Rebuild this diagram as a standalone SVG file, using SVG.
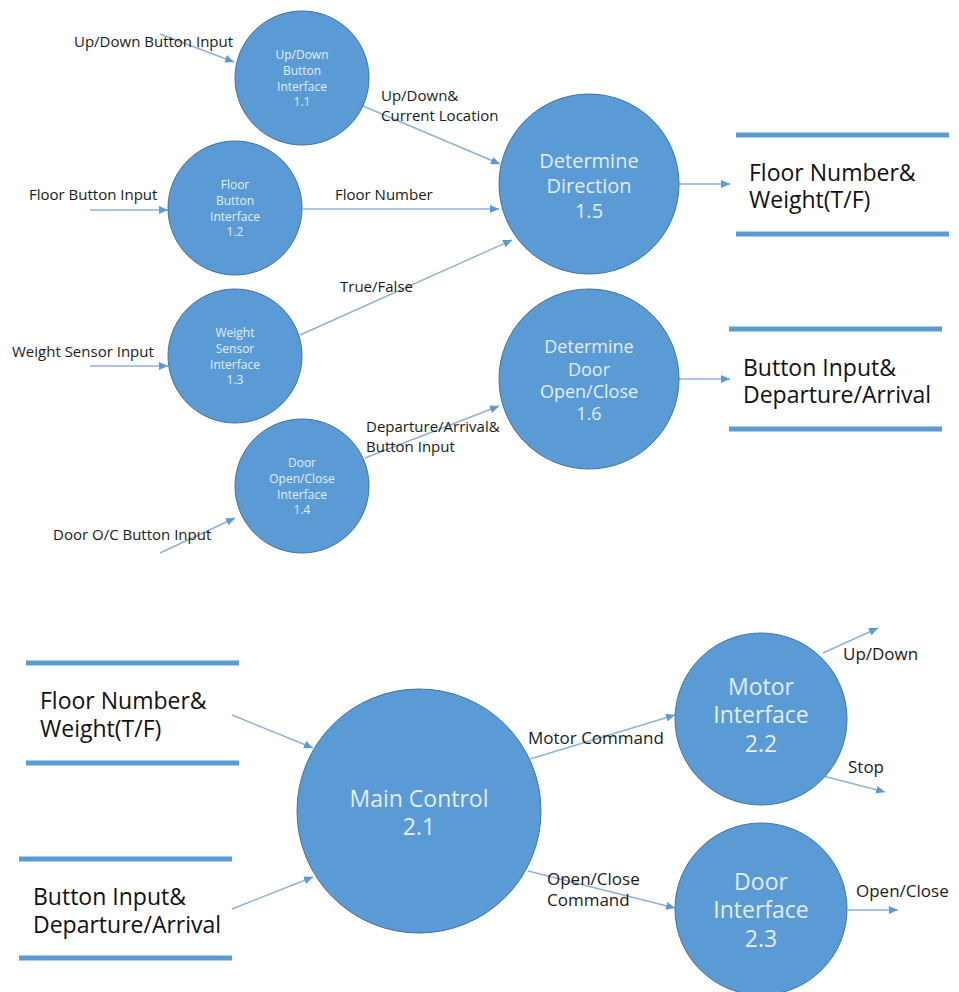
<svg xmlns="http://www.w3.org/2000/svg" width="959" height="992" viewBox="0 0 959 992">
<defs>
<marker id="arr" markerWidth="9" markerHeight="8" refX="9" refY="4" orient="auto" markerUnits="userSpaceOnUse">
<path d="M0,0 L9,4 L0,8 z" fill="#5b9bd5"/>
</marker>
<style>
.proc{fill:#5b9bd5;stroke:#41719c;stroke-width:1}
.pt{fill:#e2eef9;font-family:"Open Sans","Noto Sans",sans-serif;text-anchor:middle}
.s{font-size:12px}
.m{font-size:20px}
.m2{font-size:18px}
.l{font-size:23px}
.lbl{fill:#1a1a1a;font-family:"Open Sans","Noto Sans",sans-serif;font-size:15px}
.lbl2{fill:#1a1a1a;font-family:"Open Sans","Noto Sans",sans-serif;font-size:17px}
.store{stroke:#5b9bd5;stroke-width:5}
.st{fill:#111;font-family:"Open Sans","Noto Sans",sans-serif;font-size:23px}
.c{stroke:#8fb1d9;stroke-width:1.4;fill:none;marker-end:url(#arr)}
</style>
</defs>
<rect width="959" height="992" fill="#ffffff"/>

<g id="connectors">
<line class="c" x1="160" y1="34" x2="234" y2="62"/>
<line class="c" x1="90" y1="210" x2="168" y2="210"/>
<line class="c" x1="90" y1="366" x2="168" y2="366"/>
<line class="c" x1="160" y1="553" x2="235" y2="518"/>
<line class="c" x1="363" y1="106" x2="500" y2="164"/>
<line class="c" x1="303" y1="209" x2="499" y2="209"/>
<line class="c" x1="300" y1="335" x2="512" y2="240"/>
<line class="c" x1="365" y1="458" x2="499" y2="406"/>
<line class="c" x1="679" y1="184" x2="730" y2="184"/>
<line class="c" x1="679" y1="379" x2="730" y2="379"/>
<line class="c" x1="232" y1="715" x2="313" y2="748"/>
<line class="c" x1="232" y1="909" x2="313" y2="877"/>
<line class="c" x1="530" y1="759" x2="675" y2="715"/>
<line class="c" x1="528" y1="871" x2="675" y2="908"/>
<line class="c" x1="823" y1="653" x2="878" y2="628"/>
<line class="c" x1="823" y1="776" x2="885" y2="792"/>
<line class="c" x1="848" y1="910" x2="898" y2="910"/>
</g>

<g id="labels">
<text class="lbl" x="74" y="47">Up/Down Button Input</text>
<text class="lbl" x="29" y="200">Floor Button Input</text>
<text class="lbl" x="12" y="357">Weight Sensor Input</text>
<text class="lbl" x="53" y="540">Door O/C Button Input</text>
<text class="lbl" x="381" y="101">Up/Down&amp;</text>
<text class="lbl" x="381" y="121">Current Location</text>
<text class="lbl" x="335" y="200">Floor Number</text>
<text class="lbl" x="340" y="292">True/False</text>
<text class="lbl" x="366" y="432">Departure/Arrival&amp;</text>
<text class="lbl" x="366" y="452">Button Input</text>
<text class="lbl2" x="528" y="744">Motor Command</text>
<text class="lbl2" x="547" y="885">Open/Close</text>
<text class="lbl2" x="547" y="906">Command</text>
<text class="lbl2" x="843" y="660">Up/Down</text>
<text class="lbl2" x="848" y="773">Stop</text>
<text class="lbl2" x="856" y="897">Open/Close</text>
</g>

<g id="p1_1">
<circle class="proc" cx="302" cy="78" r="67"/>
<text class="pt s" x="302" y="59">Up/Down</text>
<text class="pt s" x="302" y="75">Button</text>
<text class="pt s" x="302" y="91">Interface</text>
<text class="pt s" x="302" y="106">1.1</text>
</g>
<g id="p1_2">
<circle class="proc" cx="235" cy="208" r="67"/>
<text class="pt s" x="235" y="189">Floor</text>
<text class="pt s" x="235" y="205">Button</text>
<text class="pt s" x="235" y="221">Interface</text>
<text class="pt s" x="235" y="236">1.2</text>
</g>
<g id="p1_3">
<circle class="proc" cx="235" cy="356" r="67"/>
<text class="pt s" x="235" y="337">Weight</text>
<text class="pt s" x="235" y="353">Sensor</text>
<text class="pt s" x="235" y="369">Interface</text>
<text class="pt s" x="235" y="384">1.3</text>
</g>
<g id="p1_4">
<circle class="proc" cx="302" cy="486" r="67"/>
<text class="pt s" x="302" y="467">Door</text>
<text class="pt s" x="302" y="483">Open/Close</text>
<text class="pt s" x="302" y="499">Interface</text>
<text class="pt s" x="302" y="514">1.4</text>
</g>
<g id="p1_5">
<circle class="proc" cx="589" cy="184" r="90"/>
<text class="pt m" x="589" y="168">Determine</text>
<text class="pt m" x="589" y="193">Direction</text>
<text class="pt m" x="589" y="218">1.5</text>
</g>
<g id="p1_6">
<circle class="proc" cx="589" cy="379" r="90"/>
<text class="pt m2" x="589" y="353">Determine</text>
<text class="pt m2" x="589" y="376">Door</text>
<text class="pt m2" x="589" y="398">Open/Close</text>
<text class="pt m2" x="589" y="420">1.6</text>
</g>

<g id="store1">
<line class="store" x1="736" y1="135" x2="949" y2="135"/>
<line class="store" x1="736" y1="234" x2="949" y2="234"/>
<text class="st" x="749" y="181">Floor Number&amp;</text>
<text class="st" x="749" y="208">Weight(T/F)</text>
</g>
<g id="store2">
<line class="store" x1="729" y1="329" x2="942" y2="329"/>
<line class="store" x1="729" y1="429" x2="942" y2="429"/>
<text class="st" x="743" y="376">Button Input&amp;</text>
<text class="st" x="743" y="403">Departure/Arrival</text>
</g>
<g id="store3">
<line class="store" x1="26" y1="663" x2="239" y2="663"/>
<line class="store" x1="26" y1="763" x2="239" y2="763"/>
<text class="st" x="40" y="709">Floor Number&amp;</text>
<text class="st" x="40" y="737">Weight(T/F)</text>
</g>
<g id="store4">
<line class="store" x1="19" y1="859" x2="232" y2="859"/>
<line class="store" x1="19" y1="958" x2="232" y2="958"/>
<text class="st" x="33" y="905">Button Input&amp;</text>
<text class="st" x="33" y="933">Departure/Arrival</text>
</g>

<g id="p2_1">
<circle class="proc" cx="419" cy="811" r="122"/>
<text class="pt l" x="419" y="807">Main Control</text>
<text class="pt l" x="419" y="835">2.1</text>
</g>
<g id="p2_2">
<circle class="proc" cx="761" cy="719" r="86"/>
<text class="pt l" x="761" y="695">Motor</text>
<text class="pt l" x="761" y="723">Interface</text>
<text class="pt l" x="761" y="752">2.2</text>
</g>
<g id="p2_3">
<circle class="proc" cx="761" cy="909" r="86"/>
<text class="pt l" x="761" y="890">Door</text>
<text class="pt l" x="761" y="918">Interface</text>
<text class="pt l" x="761" y="947">2.3</text>
</g>
</svg>
